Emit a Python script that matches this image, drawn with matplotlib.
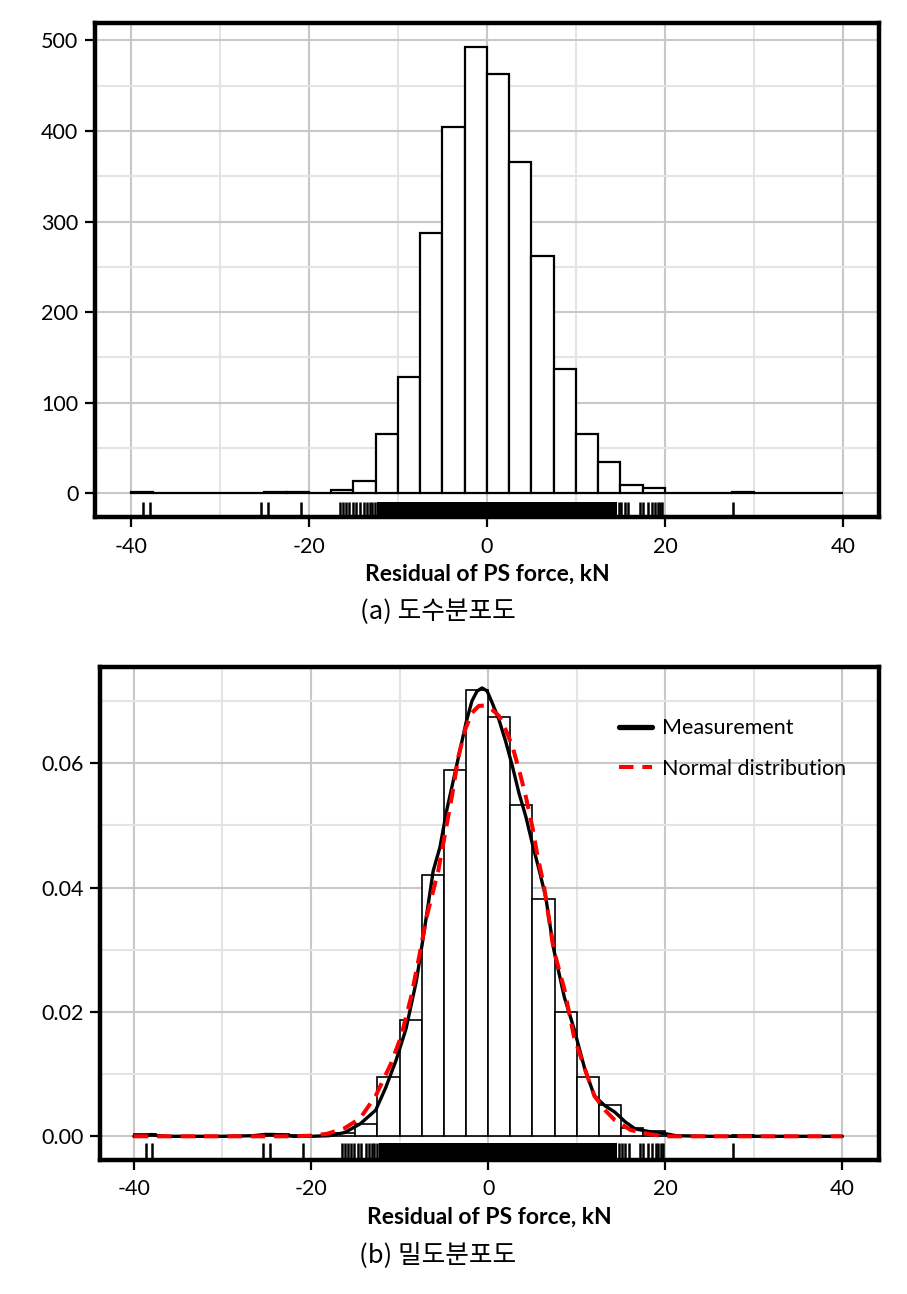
import numpy as np
import matplotlib
matplotlib.use("Agg")
import matplotlib.pyplot as plt
from matplotlib.ticker import MultipleLocator

# ---------------- data ----------------
bin_edges = [-40.0 + 2.5 * i for i in range(33)]
bin_counts = [2, 0, 0, 0, 0, 0, 2, 1, 0, 4, 14, 65, 128, 288, 404, 493,
              463, 366, 262, 137, 65, 35, 9, 6, 0, 0, 0, 1, 0, 0, 0, 0]
bin_centers = [(a + b) / 2 for a, b in zip(bin_edges[:-1], bin_edges[1:])]

rug_sparse = [-38.6, -37.9, -25.4, -24.6, -20.9,
              -16.5, -16.2, -15.8, -15.5, -15.1, -14.7, -14.3, -13.8, -13.5,
              -13.1, -12.9, -12.6,
              14.8, 15.1, 15.5, 15.9, 17.2, 17.5, 18.1, 18.5, 18.9, 19.2,
              19.5, 19.7, 27.6]
rug_dense = [-12.3, 14.6]

kde_x = [-40, -38.6, -38.0, -37.3, -36, -30, -26.5, -25.2, -24.3, -23.2,
         -22, -20, -18, -16.2, -14.45, -12.7, -11.6, -10.4, -9.27, -8.1,
         -7.25, -6.2, -5.44, -4.68, -3.92, -3.16, -2.5, -1.83, -1.25, -0.68,
         -0.11, 0.46, 1.22, 1.98, 2.74, 3.5, 4.26, 5.0, 5.78, 6.5, 7.4, 8.6,
         9.7, 10.9, 12.0, 13.2, 14.3, 15.5, 16.6, 18.4, 20.1, 21.2, 25, 30, 40]
kde_y = [0.0, 0.0001, 0.0003, 0.0001, 0.0, 0.0, 0.0001, 0.0003, 0.0003, 0.0002,
         0.0, 0.0, 0.0001, 0.0006, 0.002, 0.0042, 0.0077, 0.0122, 0.0173, 0.025,
         0.0327, 0.0427, 0.0465, 0.0524, 0.0573, 0.0622, 0.0665, 0.0700, 0.0716, 0.0721,
         0.0716, 0.0697, 0.0670, 0.0635, 0.0595, 0.0551, 0.0514, 0.0470, 0.0427, 0.0385, 0.0301, 0.0224,
         0.0173, 0.0109, 0.0065, 0.0049, 0.0039, 0.0023, 0.0012, 0.0007, 0.0004, 0.0001, 0.0, 0.0, 0.0]

norm_x = [-40, -30, -22, -20, -18.2, -16.2, -14.45, -12.7, -11.0, -9.84, -8.7,
          -7.8, -6.96, -5.63, -4.87, -4.1, -3.35, -2.59, -1.83, -1.06, -0.3,
          0.46, 1.22, 1.98, 2.74, 3.5, 4.26, 5.0, 5.6, 6.3, 7.4, 8.6, 9.7,
          10.9, 12.0, 13.2, 14.3, 16.1, 18.4, 20.1, 25, 30, 40]
norm_y = [0.0, 0.0, 0.0, 0.0001, 0.0004, 0.0013, 0.0029, 0.0065, 0.0116, 0.0160, 0.0224,
          0.0288, 0.0352, 0.0427, 0.0486, 0.0546, 0.0611, 0.0654, 0.0681, 0.0692, 0.0693,
          0.0686, 0.0676, 0.0654, 0.0627, 0.0589, 0.0546, 0.0497, 0.0449, 0.0403, 0.0300, 0.0237, 0.0160,
          0.0109, 0.0065, 0.0042, 0.0026, 0.0010, 0.0003, 0.0, 0.0, 0.0, 0.0]

top_yticks = [0, 100, 200, 300, 400, 500]
bot_yticks = [0.00, 0.02, 0.04, 0.06]
xticks = [-40, -20, 0, 20, 40]
xlabel = "Residual of PS force, kN"
caption_a = "(a) 도수분포도"
caption_b = "(b) 밀도분포도"
legend_labels = ["Measurement", "Normal distribution"]

# ---------------- style ----------------
plt.rcParams['font.family'] = ['Lato', 'DejaVu Sans']
TICK_FS = 15.5
LABEL_FS = 16.5
MAJOR_GRID = '#c8c8c8'
MINOR_GRID = '#e4e4e4'

fig = plt.figure(figsize=(9.07, 12.94), dpi=100)
ax1 = fig.add_axes([0.1047, 0.6002, 0.8648, 0.3818])
ax2 = fig.add_axes([0.1105, 0.1036, 0.8583, 0.3806])


def style_axes(ax, ymajor, yminor):
    ax.xaxis.set_major_locator(MultipleLocator(20))
    ax.xaxis.set_minor_locator(MultipleLocator(10))
    ax.yaxis.set_major_locator(MultipleLocator(ymajor))
    ax.yaxis.set_minor_locator(MultipleLocator(yminor))
    ax.grid(which='major', color=MAJOR_GRID, lw=1.5, zorder=0)
    ax.grid(which='minor', color=MINOR_GRID, lw=1.5, zorder=0)
    ax.set_axisbelow(True)
    for s in ax.spines.values():
        s.set_linewidth(3.2)
        s.set_color('black')
    ax.tick_params(which='major', direction='out', length=7, width=1.6,
                   labelsize=TICK_FS, color='black')
    ax.tick_params(axis='x', which='major', pad=7)
    ax.tick_params(axis='y', which='major', pad=5)
    ax.tick_params(which='minor', length=0)
    ax.set_xticks(xticks)
    ax.set_xticklabels([str(t) for t in xticks])


def draw_rug(ax, h):
    tr = ax.get_xaxis_transform()
    ax.vlines(rug_sparse, 0, h, transform=tr, color='black', lw=1.8, zorder=3)
    ax.fill_between(rug_dense, [0, 0], [h, h], transform=tr,
                    color='black', lw=0, zorder=3)


# ---- (a) frequency histogram ----
ax1.hist(bin_centers, bins=bin_edges, weights=bin_counts,
         facecolor='white', edgecolor='black', linewidth=1.6, zorder=2)
ax1.set_xlim(-44.05, 44.1)
ax1.set_ylim(-26.5, 519)
style_axes(ax1, 100, 50)
ax1.set_yticks(top_yticks)
ax1.set_yticklabels([str(t) for t in top_yticks])
draw_rug(ax1, 0.032)
ax1.set_xlabel(xlabel, fontsize=LABEL_FS, fontweight='bold', labelpad=5)

# ---- (b) density histogram ----
ax2.hist(bin_centers, bins=bin_edges, weights=bin_counts, density=True,
         facecolor='white', edgecolor='black', linewidth=1.2, zorder=2)
ax2.plot(kde_x, kde_y, color='black', lw=2.4, zorder=4,
         label=legend_labels[0], solid_capstyle='round')
ax2.plot(norm_x, norm_y, color='#ff0000', lw=2.9, zorder=5,
         linestyle=(0, (3.6, 2.2)), label=legend_labels[1])
ax2.set_xlim(-43.8, 44.1)
ax2.set_ylim(-0.0038, 0.0754)
style_axes(ax2, 0.02, 0.01)
ax2.set_yticks(bot_yticks)
ax2.set_yticklabels([f"{t:.2f}" for t in bot_yticks])
draw_rug(ax2, 0.035)
ax2.set_xlabel(xlabel, fontsize=LABEL_FS, fontweight='bold', labelpad=5)

leg = ax2.legend(loc='upper left', bbox_to_anchor=(0.666, 0.897), frameon=False,
                 fontsize=15.5, handlelength=1.55, handletextpad=0.45,
                 labelspacing=0.95, borderpad=0, borderaxespad=0)
leg.get_lines()[0].set_linewidth(3.8)

fig.text(438 / 907, 1 - 612 / 1294, caption_a, ha='center', va='center',
         fontsize=18.5, family=['Noto Sans CJK KR', 'DejaVu Sans'])
fig.text(438 / 907, 1 - 1255 / 1294, caption_b, ha='center', va='center',
         fontsize=18.5, family=['Noto Sans CJK KR', 'DejaVu Sans'])

fig.savefig('out.png', dpi=100, facecolor='white')
